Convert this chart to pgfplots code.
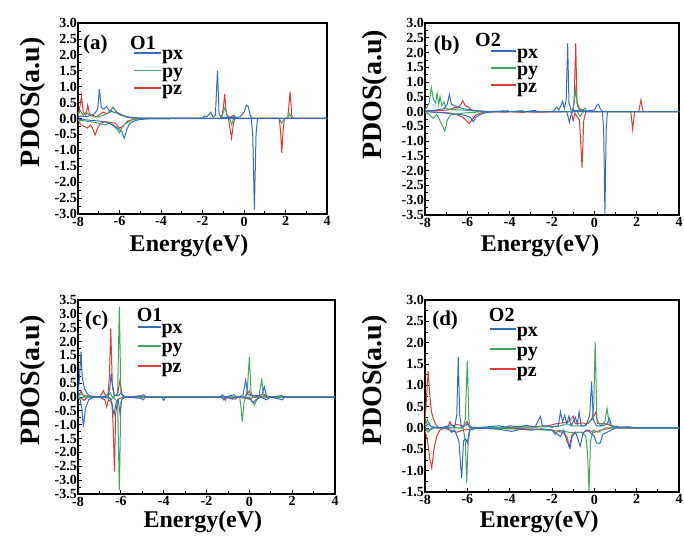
\documentclass[border=0pt]{standalone}
\usepackage{fontspec}
\setmainfont{Liberation Serif}
\usepackage{pgfplots}
\pgfplotsset{compat=1.18}
\definecolor{pxc}{RGB}{52,110,192}
\definecolor{pyc}{RGB}{60,168,98}
\definecolor{pzc}{RGB}{218,62,58}
\pgfplotsset{pdos/.style={
  scale only axis, anchor=south west,
  xmin=-8, xmax=4, xtick={-8,-6,-4,-2,0,2,4}, minor x tick num=1,
  ytick distance=0.5, minor y tick num=1,
  tick align=inside, xtick pos=bottom, ytick pos=left,
  axis line style={line width=1.2pt},
  major tick length=4pt, minor tick length=2.5pt,
  every tick/.style={black, line width=0.8pt},
  tick label style={font=\fontsize{14}{14}\selectfont\bfseries, inner sep=1pt},
  xticklabel style={yshift=-1.5pt},
  /pgf/number format/assume math mode=true,
  yticklabel style={/pgf/number format/fixed,/pgf/number format/fixed zerofill,/pgf/number format/precision=1},
  xlabel={Energy(eV)}, ylabel={PDOS(a.u)},
  xlabel style={font=\fontsize{24}{24}\selectfont\bfseries, anchor=base},
  ylabel style={font=\fontsize{28}{28}\selectfont\bfseries, anchor=base},
  legend cell align=left,
  legend style={draw=none, fill=none, inner sep=0pt, anchor=north west,
    font=\fontsize{20}{20}\selectfont\bfseries,
    nodes={inner sep=0pt, text height=9pt, text depth=4.5pt},
    /tikz/every even column/.append style={column sep=3pt}},
  every axis plot/.append style={line width=1pt, forget plot},
}}
\newcommand{\leg}{%
  \addlegendimage{color=pxc, line width=1.8pt}\addlegendentry{px}
  \addlegendimage{color=pyc, line width=1.8pt}\addlegendentry{py}
  \addlegendimage{color=pzc, line width=1.8pt}\addlegendentry{pz}}
\begin{document}
\begin{tikzpicture}
\path[use as bounding box] (0,0) rectangle (684pt,545pt);
% ---------------- (a)
\begin{axis}[pdos, at={(78pt,331pt)}, width=249pt, height=191pt, ymin=-3, ymax=3,
  xlabel style={at={(axis description cs:0.446,-0.196)}},
  ylabel style={at={(axis description cs:-0.153,0.586)}},
  legend style={at={(axis description cs:0.221,0.855)}, row sep=4pt},
  legend image code/.code={\draw[#1] (0pt,4.6pt) -- (27pt,4.6pt);}]
\leg
\addplot[pzc] coordinates {(-8,0.05) (-7.9,0.4) (-7.83,0.72) (-7.75,0.2) (-7.62,0.1) (-7.53,0.42) (-7.45,0.15) (-7.3,0.1) (-7.1,0.05) (-6.9,0.15) (-6.8,0.2) (-6.6,0.15) (-6.45,0.25) (-6.3,0.35) (-6.15,0.2) (-6.0,0.12) (-5.8,0.08) (-5.5,0.02) (-5,0) (-1.1,0) (-1.0,0.3) (-0.93,0.77) (-0.85,0.15) (-0.7,0.03) (-0.5,0.1) (-0.4,0) (2.1,0) (2.15,0.3) (2.22,0.84) (2.3,0.1) (2.38,0) (4,0)};
\addplot[pzc] coordinates {(-8,-0.05) (-7.85,-0.2) (-7.7,-0.25) (-7.55,-0.3) (-7.4,-0.2) (-7.3,-0.3) (-7.18,-0.52) (-7.05,-0.3) (-6.9,-0.15) (-6.7,-0.1) (-6.5,-0.12) (-6.2,-0.15) (-6.0,-0.3) (-5.85,-0.25) (-5.6,-0.08) (-5.3,-0.02) (-5,0) (-0.75,0) (-0.68,-0.3) (-0.6,-0.62) (-0.52,-0.2) (-0.45,0) (1.7,0) (1.76,-0.4) (1.82,-1.08) (1.88,-0.4) (1.95,0) (4,0)};
\addplot[pyc] coordinates {(-8,0.1) (-7.9,0.25) (-7.75,0.1) (-7.6,0.2) (-7.45,0.1) (-7.2,0.05) (-7,0.05) (-6.8,0.1) (-6.6,0.15) (-6.45,0.2) (-6.32,0.35) (-6.2,0.25) (-6.0,0.15) (-5.8,0.08) (-5.5,0.03) (-5,0.0) (-1.1,0) (-0.92,0.35) (-0.8,0.05) (-0.6,0.02) (-0.45,0.08) (-0.35,0) (2.1,0) (2.2,0.15) (2.3,0) (4,0)};
\addplot[pyc] coordinates {(-8,-0.05) (-7.6,-0.08) (-7.2,-0.12) (-7,-0.15) (-6.7,-0.2) (-6.5,-0.15) (-6.3,-0.22) (-6.1,-0.35) (-6.0,-0.45) (-5.9,-0.3) (-5.7,-0.15) (-5.4,-0.05) (-5,0) (-0.7,0) (-0.6,-0.2) (-0.5,0) (1.7,0) (1.82,-0.15) (1.95,0) (4,0)};
\addplot[pxc] coordinates {(-8,0.05) (-7.8,0.08) (-7.6,0.05) (-7.4,0.1) (-7.2,0.15) (-7.05,0.3) (-6.97,0.92) (-6.88,0.35) (-6.75,0.3) (-6.62,0.38) (-6.5,0.25) (-6.35,0.22) (-6.2,0.18) (-6.0,0.15) (-5.85,0.1) (-5.6,0.05) (-5.3,0.03) (-5,0.01) (-4,0.01) (-2,0.01) (-1.9,0.08) (-1.8,0.05) (-1.6,0.2) (-1.5,0.05) (-1.38,0.1) (-1.28,1.5) (-1.2,0.15) (-1.1,0.03) (-0.8,0.04) (-0.5,0.03) (-0.2,0.05) (0.0,0.2) (0.12,0.42) (0.2,0.38) (0.3,0.1) (0.4,0.0) (4,0)};
\addplot[pxc] coordinates {(-8,-0.02) (-7.5,-0.05) (-7,-0.08) (-6.6,-0.12) (-6.3,-0.2) (-6.1,-0.3) (-5.9,-0.4) (-5.77,-0.62) (-5.65,-0.35) (-5.5,-0.15) (-5.3,-0.08) (-5,-0.03) (-4.5,-0.01) (0.35,0) (0.42,-0.5) (0.5,-2.86) (0.58,-0.5) (0.65,0) (4,0)};
\node[anchor=base west, font=\fontsize{21}{21}\selectfont\bfseries, inner sep=0pt] at (axis description cs:0.02,0.859) {(a)};
\node[anchor=base west, font=\fontsize{20}{20}\selectfont\bfseries, inner sep=0pt] at (axis description cs:0.209,0.859) {O1};
\end{axis}
% ---------------- (b)
\begin{axis}[pdos, at={(425pt,330pt)}, width=254pt, height=192pt, ymin=-3.5, ymax=3,
  xlabel style={at={(axis description cs:0.453,-0.19)}},
  ylabel style={at={(axis description cs:-0.172,0.625)}},
  legend style={at={(axis description cs:0.256,0.865)}, row sep=3.5pt},
  legend image code/.code={\draw[#1] (0pt,4.6pt) -- (25pt,4.6pt);}]
\leg
\addplot[pzc] coordinates {(-8,0.02) (-7.5,0.03) (-7,0.05) (-6.7,0.1) (-6.6,0.15) (-6.45,0.12) (-6.3,0.25) (-6.22,0.37) (-6.1,0.2) (-5.95,0.15) (-5.8,0.05) (-5.5,0.02) (-5,0) (-1.0,0) (-0.95,0.5) (-0.88,2.31) (-0.82,0.3) (-0.7,0.1) (-0.55,0.05) (-0.4,0) (2.1,0) (2.2,0.39) (2.3,0) (4,0)};
\addplot[pzc] coordinates {(-8,0) (-7.2,-0.03) (-6.8,-0.05) (-6.5,-0.1) (-6.2,-0.2) (-6.05,-0.3) (-5.91,-0.4) (-5.8,-0.3) (-5.6,-0.12) (-5.3,-0.03) (-5,0) (-4.2,-0.02) (-4,0) (-3.3,-0.03) (-3.2,0) (-2.9,-0.02) (-1.1,0) (-1.0,-0.3) (-0.92,-0.05) (-0.7,-0.3) (-0.58,-1.9) (-0.5,-0.3) (-0.4,0) (1.72,0) (1.81,-0.6) (1.9,0) (4,0)};
\addplot[pyc] coordinates {(-8,0.05) (-7.8,0.3) (-7.7,0.82) (-7.6,0.4) (-7.5,0.3) (-7.43,0.62) (-7.35,0.25) (-7.29,0.5) (-7.2,0.2) (-7.1,0.33) (-7.0,0.1) (-6.8,0.08) (-6.5,0.06) (-6.2,0.05) (-5.8,0.03) (-5.4,0.01) (-5,0) (-1.05,0) (-0.95,0.3) (-0.88,0.77) (-0.8,0.2) (-0.7,0.05) (-0.55,0.05) (-0.44,0.12) (-0.35,0) (4,0)};
\addplot[pyc] coordinates {(-8,-0.02) (-7.8,-0.1) (-7.6,-0.23) (-7.45,-0.1) (-7.32,-0.26) (-7.2,-0.45) (-7.06,-0.66) (-6.95,-0.3) (-6.8,-0.12) (-6.5,-0.08) (-6.2,-0.05) (-5.8,-0.03) (-5.4,-0.01) (-5,0) (-0.8,0) (-0.68,-0.17) (-0.58,-0.05) (-0.5,0) (4,0)};
\addplot[pxc] coordinates {(-8,0.02) (-7.5,0.05) (-7.1,0.1) (-6.95,0.25) (-6.85,0.58) (-6.75,0.25) (-6.6,0.2) (-6.4,0.15) (-6.2,0.1) (-6.0,0.08) (-5.7,0.04) (-5.3,0.01) (-5,0) (-4.1,0.03) (-4,0) (-3.4,0.03) (-3.3,0) (-2.8,0.04) (-2.7,0) (-2,0) (-1.9,0.05) (-1.78,0.15) (-1.68,0.05) (-1.58,0.2) (-1.5,0.35) (-1.42,0.1) (-1.33,0.4) (-1.26,2.31) (-1.2,0.3) (-1.1,0.05) (-0.8,0.03) (-0.4,0.02) (0,0.05) (0.1,0.2) (0.19,0.25) (0.28,0.1) (0.38,0) (4,0)};
\addplot[pxc] coordinates {(-8,0) (-7.5,-0.02) (-7,-0.05) (-6.6,-0.08) (-6.3,-0.1) (-6.0,-0.15) (-5.85,-0.2) (-5.72,-0.34) (-5.6,-0.2) (-5.4,-0.1) (-5.2,-0.05) (-5,-0.02) (-4.6,0) (-1.3,0) (-1.18,-0.36) (-1.08,-0.05) (-1,0) (0.38,0) (0.44,-0.6) (0.5,-3.45) (0.56,-0.6) (0.62,0) (4,0)};
\node[anchor=base west, font=\fontsize{21}{21}\selectfont\bfseries, inner sep=0pt] at (axis description cs:0.034,0.859) {(b)};
\node[anchor=base west, font=\fontsize{20}{20}\selectfont\bfseries, inner sep=0pt] at (axis description cs:0.197,0.877) {O2};
\end{axis}
% ---------------- (c)
\begin{axis}[pdos, at={(78pt,51pt)}, width=257pt, height=194pt, ymin=-3.5, ymax=3.5,
  xlabel style={at={(axis description cs:0.486,-0.172)}},
  ylabel style={at={(axis description cs:-0.151,0.585)}},
  legend style={at={(axis description cs:0.228,0.875)}, row sep=6pt},
  legend image code/.code={\draw[#1] (0pt,4.6pt) -- (23pt,4.6pt);}]
\leg
\addplot[pzc] coordinates {(-8,0.02) (-7.9,0.15) (-7.85,0.2) (-7.75,0.05) (-7,0) (-6.9,0.1) (-6.82,0.23) (-6.72,0.05) (-6.6,0.1) (-6.53,0.8) (-6.47,2.48) (-6.4,0.5) (-6.3,0.05) (-6.15,0.1) (-6.04,0.61) (-5.95,0.1) (-5.8,0) (-5.2,0.03) (-4.8,0) (-0.2,0) (-0.1,0.1) (0.0,0.22) (0.08,0.05) (0.6,0) (0.7,0.1) (0.8,0) (4,0)};
\addplot[pzc] coordinates {(-8,0) (-7.85,-0.05) (-7.72,-0.12) (-7.6,-0.03) (-7,0) (-6.75,-0.1) (-6.66,-0.36) (-6.58,-0.1) (-6.42,-0.2) (-6.36,-1.0) (-6.3,-2.69) (-6.24,-0.6) (-6.15,-0.1) (-5.9,0) (-1.2,0) (-1.12,-0.12) (-1.05,0) (-0.65,-0.08) (-0.55,0) (-0.15,-0.05) (0,-0.08) (0.2,0) (4,0)};
\addplot[pyc] coordinates {(-8,0.02) (-7.85,0.12) (-7.7,0.02) (-6.6,0) (-6.5,0.15) (-6.4,0) (-6.15,0.1) (-6.07,3.26) (-6.0,0.2) (-5.9,0) (-0.2,0) (-0.1,0.2) (0.0,1.44) (0.08,0.2) (0.15,0) (0.45,0) (0.5,0.3) (0.58,0.62) (0.65,0.1) (0.75,0) (4,0)};
\addplot[pyc] coordinates {(-8,0) (-7.9,-0.05) (-7.7,0) (-6.55,0) (-6.45,-0.1) (-6.35,0) (-6.15,-0.2) (-6.07,-3.36) (-6.0,-0.2) (-5.9,0) (-0.45,0) (-0.4,-0.3) (-0.33,-0.89) (-0.25,-0.2) (-0.18,0) (0.1,-0.1) (0.23,-0.29) (0.35,-0.1) (0.5,0) (4,0)};
\addplot[pxc] coordinates {(-8,0.05) (-7.92,0.8) (-7.86,1.63) (-7.8,0.7) (-7.7,0.3) (-7.55,0.1) (-7.4,0.03) (-7,0) (-6.6,0.02) (-6.52,0.3) (-6.45,0.85) (-6.38,0.3) (-6.3,0.05) (-6.1,0.05) (-6.0,0.15) (-5.9,0.02) (-5.5,0) (-5.05,0.05) (-4.95,0.08) (-4.8,0) (-1.4,0) (-1.25,0.08) (-1.15,0) (-0.7,0.08) (-0.6,0) (-0.3,0.05) (-0.17,0.61) (-0.08,0.1) (0.1,0.05) (0.5,0.05) (0.6,0.1) (0.7,0.37) (0.8,0.05) (1,0) (1.5,0.05) (1.6,0) (4,0)};
\addplot[pxc] coordinates {(-8,-0.02) (-7.9,-0.1) (-7.82,-0.4) (-7.75,-1.07) (-7.65,-0.4) (-7.5,-0.1) (-7.3,-0.02) (-7,0) (-6.5,-0.05) (-6.4,-0.3) (-6.32,-0.65) (-6.22,-0.2) (-6.12,-0.1) (-6.04,-0.59) (-5.96,-0.1) (-5.8,0) (-5.05,-0.05) (-4.95,-0.1) (-4.85,0) (-4.1,0) (-4.0,-0.12) (-3.9,0) (-1.3,0) (-1.2,-0.1) (-1.1,0) (-0.8,-0.08) (-0.7,0) (0.0,0) (0.1,-0.15) (0.2,-0.2) (0.3,-0.1) (0.5,0) (0.8,-0.1) (1,0) (1.55,-0.1) (1.65,0) (4,0)};
\node[anchor=base west, font=\fontsize{21}{21}\selectfont\bfseries, inner sep=0pt] at (axis description cs:0.027,0.87) {(c)};
\node[anchor=base west, font=\fontsize{20}{20}\selectfont\bfseries, inner sep=0pt] at (axis description cs:0.228,0.887) {O1};
\end{axis}
% ---------------- (d)
\begin{axis}[pdos, at={(425pt,53pt)}, width=254pt, height=192pt, ymin=-1.5, ymax=3,
  xlabel style={at={(axis description cs:0.45,-0.186)}},
  ylabel style={at={(axis description cs:-0.172,0.583)}},
  legend style={at={(axis description cs:0.251,0.86)}, row sep=6.5pt},
  legend image code/.code={\draw[#1] (0pt,4.6pt) -- (26pt,4.6pt);}]
\leg
\addplot[pzc] coordinates {(-8,0.1) (-7.92,0.8) (-7.85,1.33) (-7.78,0.8) (-7.7,0.4) (-7.6,0.2) (-7.45,0.05) (-7.3,0) (-6.9,0.05) (-6.82,0.15) (-6.72,0.05) (-6.5,0.08) (-6.2,0.05) (-6.0,0.15) (-5.9,0.02) (-5,0) (-3,0.03) (-2.2,0.05) (-1.8,0.1) (-1.5,0.12) (-1.2,0.15) (-1.0,0.28) (-0.9,0.1) (-0.6,0.12) (-0.3,0.1) (0,0.3) (0.08,0.38) (0.15,0.1) (0.5,0.1) (0.8,0.05) (1.2,0.02) (1.6,0) (4,0)};
\addplot[pzc] coordinates {(-8,-0.05) (-7.88,-0.3) (-7.78,-0.7) (-7.68,-0.94) (-7.58,-0.5) (-7.45,-0.2) (-7.3,-0.05) (-7.1,0) (-6.8,-0.05) (-6.5,-0.1) (-6.2,-0.05) (-5.5,0) (-3,-0.02) (-2,-0.05) (-1.5,-0.1) (-1.3,-0.2) (-1.18,-0.45) (-1.05,-0.15) (-0.8,-0.1) (-0.5,-0.1) (-0.3,-0.05) (0,-0.1) (0.3,-0.05) (0.8,0) (4,0)};
\addplot[pyc] coordinates {(-8,0.05) (-7.88,0.2) (-7.75,0.05) (-7.5,0) (-6.2,0) (-6.1,0.2) (-6.0,1.58) (-5.93,0.2) (-5.85,0) (-4,0.02) (-3,0.02) (-2,0.03) (-1.6,0.05) (-1.3,0.1) (-1,0.05) (-0.5,0.05) (-0.1,0.2) (-0.03,0.5) (0.04,2.02) (0.12,0.2) (0.3,0.05) (0.5,0.15) (0.6,0.46) (0.7,0.1) (0.9,0) (4,0)};
\addplot[pyc] coordinates {(-8,0) (-7.85,-0.1) (-7.7,0) (-6.2,0) (-6.1,-0.3) (-6.03,-1.28) (-5.96,-0.3) (-5.85,0) (-4,-0.02) (-2,-0.05) (-1.85,-0.15) (-1.7,-0.05) (-1.2,-0.1) (-0.6,-0.1) (-0.4,-0.2) (-0.32,-0.6) (-0.25,-1.49) (-0.18,-0.3) (-0.05,-0.05) (0.2,-0.1) (0.5,0) (4,0)};
\addplot[pxc] coordinates {(-8,0.02) (-7.85,0.1) (-7.7,0.03) (-7.2,0) (-6.85,0.05) (-6.75,0.08) (-6.6,0.02) (-6.5,0.3) (-6.43,1.66) (-6.36,0.3) (-6.28,0.02) (-6.1,0.05) (-6.0,0.1) (-5.9,0.02) (-5.5,0.01) (-5.0,0.03) (-4.5,0.05) (-4.2,0.02) (-4.0,0.05) (-3.6,0.03) (-3.2,0.06) (-2.8,0.02) (-2.55,0.27) (-2.45,0.05) (-2.2,0.05) (-2,0.02) (-1.7,0.05) (-1.6,0.38) (-1.5,0.15) (-1.4,0.3) (-1.3,0.1) (-1.2,0.28) (-1.1,0.05) (-0.9,0.25) (-0.8,0.1) (-0.72,0.38) (-0.62,0.05) (-0.4,0.05) (-0.22,0.3) (-0.13,1.09) (-0.05,0.2) (0.1,0.05) (0.4,0.05) (0.6,0.1) (0.72,0.22) (0.8,0.05) (1.2,0.02) (1.6,0.03) (2,0) (4,0)};
\addplot[pxc] coordinates {(-8,0) (-7.8,-0.05) (-7.6,0) (-6.9,0) (-6.75,-0.1) (-6.6,-0.05) (-6.4,-0.3) (-6.27,-1.18) (-6.18,-0.3) (-6.08,-0.25) (-6.0,-0.35) (-5.9,-0.05) (-5.5,0) (-4.5,-0.03) (-3.9,-0.08) (-3.5,-0.03) (-3,-0.05) (-2.5,-0.02) (-2,-0.05) (-1.6,-0.2) (-1.45,-0.05) (-1.3,-0.3) (-1.15,-0.48) (-1.05,-0.2) (-0.9,-0.1) (-0.78,-0.25) (-0.67,-0.43) (-0.55,-0.15) (-0.4,-0.05) (-0.2,-0.1) (0,-0.2) (0.1,-0.35) (0.27,-0.36) (0.4,-0.15) (0.6,-0.1) (0.8,-0.05) (1,0) (4,0)};
\node[anchor=base west, font=\fontsize{21}{21}\selectfont\bfseries, inner sep=0pt] at (axis description cs:0.028,0.868) {(d)};
\node[anchor=base west, font=\fontsize{20}{20}\selectfont\bfseries, inner sep=0pt] at (axis description cs:0.251,0.889) {O2};
\end{axis}
\end{tikzpicture}
\end{document}
